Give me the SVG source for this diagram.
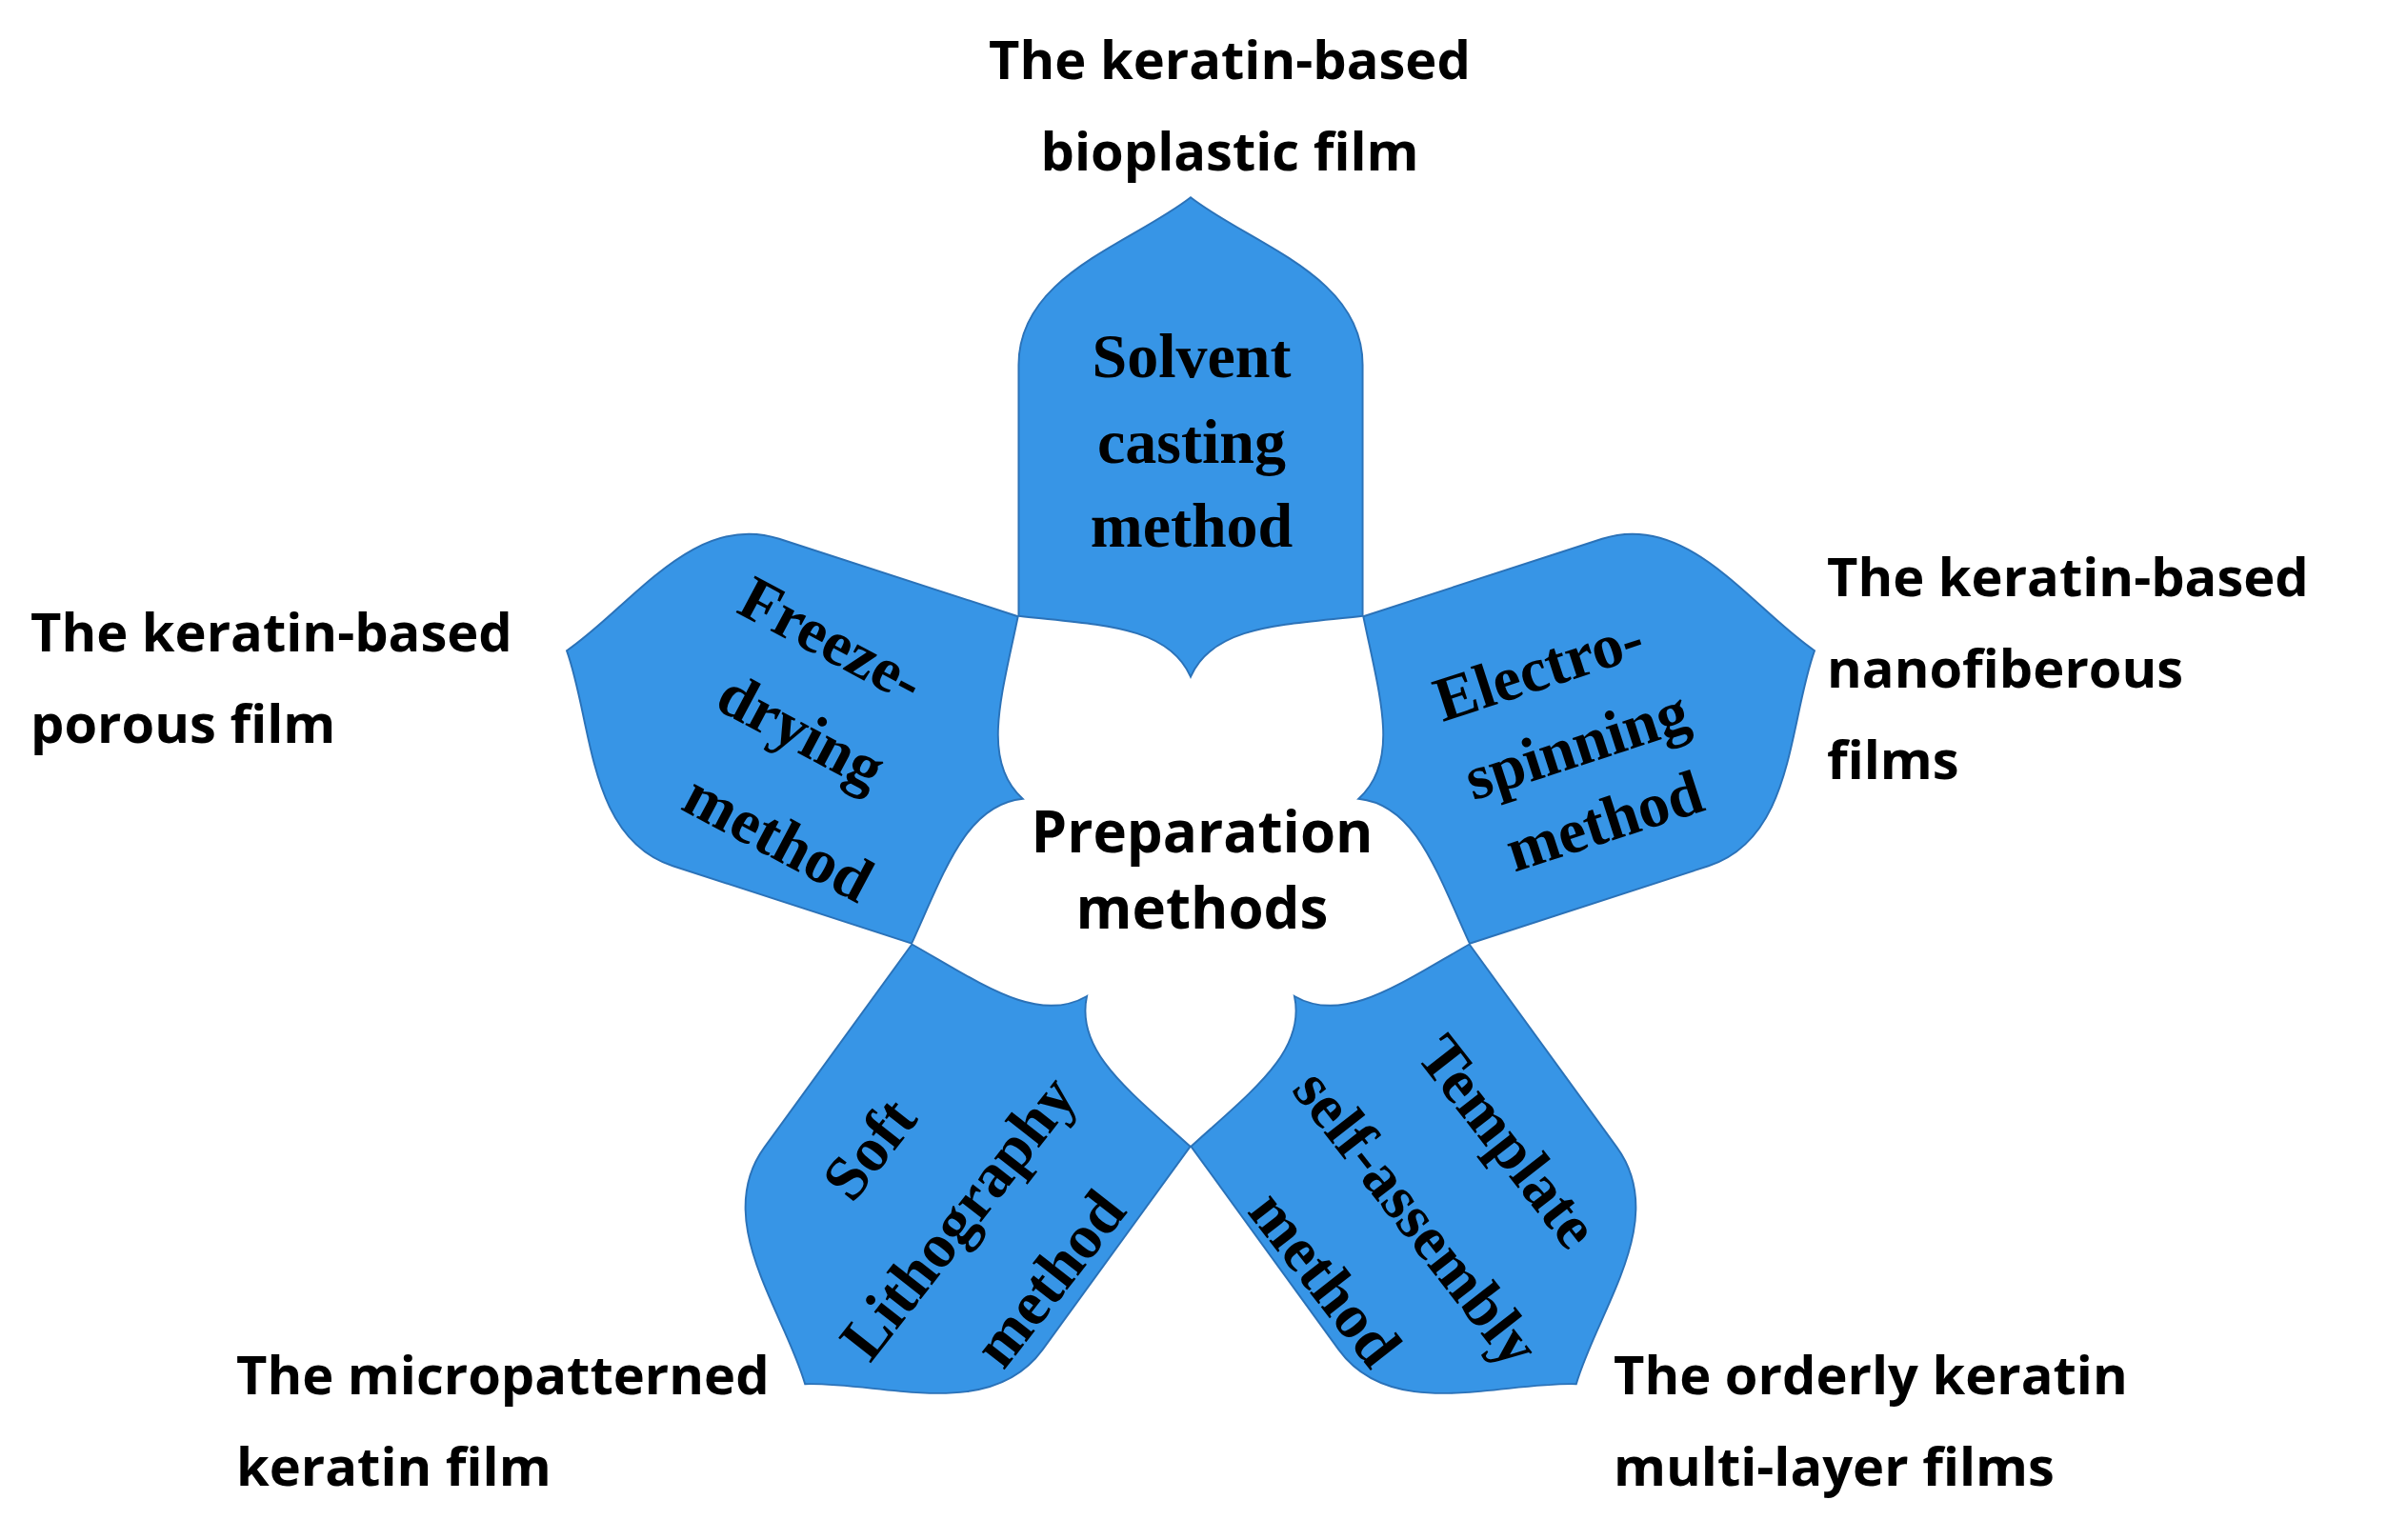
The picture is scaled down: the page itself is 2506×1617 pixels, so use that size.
<svg xmlns="http://www.w3.org/2000/svg" width="2506" height="1617" viewBox="0 0 2506 1617">
<style>
.petal{fill:#3795E6;stroke:#2B72B8;stroke-width:1.2}
.pt{font-family:"Liberation Serif",serif;font-weight:bold;font-size:66px;fill:#000;text-anchor:middle}
.lb{font-family:"Open Sans","Liberation Sans",sans-serif;font-weight:bold;font-size:56px;fill:#000}
</style>
<defs>
<path id="p" d="M -113,-156 L -113,-321 C -113,-380 -40,-400 0,-431 C 40,-400 113,-380 113,-321 L 113,-156 C 60,-150 15,-150 0,-116 C -15,-150 -60,-150 -113,-156 Z"/>
</defs>
<rect width="2506" height="1617" fill="#fff"/>
<g id="petals">
<g id="petal-top" transform="translate(1250,896) scale(1.598)"><use href="#p" class="petal"/></g>
<g id="petal-right" transform="translate(1250,896) scale(1.598) rotate(72)"><use href="#p" class="petal"/></g>
<g id="petal-bottom-right" transform="translate(1250,896) scale(1.598) rotate(144)"><use href="#p" class="petal"/></g>
<g id="petal-bottom-left" transform="translate(1250,896) scale(1.598) rotate(216)"><use href="#p" class="petal"/></g>
<g id="petal-left" transform="translate(1250,896) scale(1.598) rotate(288)"><use href="#p" class="petal"/></g>
</g>
<g id="petal-texts">
<g id="t-top"><text class="pt" x="1251" y="396">Solvent</text><text class="pt" x="1251" y="486">casting</text><text class="pt" x="1251" y="574">method</text></g>
<g id="t-right"><text class="pt" transform="translate(1622,723) rotate(-18)">Electro-</text><text class="pt" transform="translate(1662,803) rotate(-18)">spinning</text><text class="pt" transform="translate(1691,883) rotate(-18)">method</text></g>
<g id="t-left"><text class="pt" transform="translate(863,691) rotate(28)">Freeze-</text><text class="pt" transform="translate(831,787) rotate(28)">drying</text><text class="pt" transform="translate(807,899) rotate(28)">method</text></g>
<g id="t-bl"><text class="pt" transform="translate(930,1220) rotate(-52)">Soft</text><text class="pt" transform="translate(1023,1292) rotate(-52)">Lithography</text><text class="pt" transform="translate(1119,1356) rotate(-52)">method</text></g>
<g id="t-br"><text class="pt" transform="translate(1566,1212) rotate(52)">Template</text><text class="pt" transform="translate(1470,1292) rotate(52)">self-assembly</text><text class="pt" transform="translate(1374,1356) rotate(52)">method</text></g>
</g>
<g id="center"><text class="lb" x="1262" y="895" text-anchor="middle" style="font-size:60px">Preparation</text><text class="lb" x="1262" y="975" text-anchor="middle" style="font-size:60px">methods</text></g>
<g id="labels">
<g id="l-top"><text class="lb" x="1291" y="83" text-anchor="middle">The keratin-based</text><text class="lb" x="1291" y="179" text-anchor="middle">bioplastic film</text></g>
<g id="l-left"><text class="lb" x="32" y="684">The keratin-based</text><text class="lb" x="32" y="780">porous film</text></g>
<g id="l-right"><text class="lb" x="1918" y="626">The keratin-based</text><text class="lb" x="1918" y="722">nanofiberous</text><text class="lb" x="1918" y="818">films</text></g>
<g id="l-bl"><text class="lb" x="248" y="1464">The micropatterned</text><text class="lb" x="248" y="1560">keratin film</text></g>
<g id="l-br"><text class="lb" x="1694" y="1464">The orderly keratin</text><text class="lb" x="1694" y="1560">multi-layer films</text></g>
</g>
</svg>
